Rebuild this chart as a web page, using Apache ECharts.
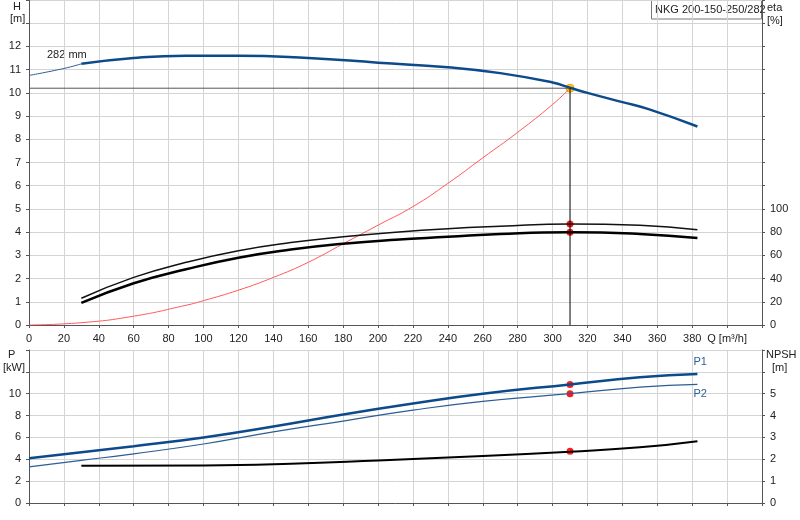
<!DOCTYPE html>
<html><head><meta charset="utf-8">
<script src="https://cdn.jsdelivr.net/npm/echarts@6/dist/echarts.min.js"></script>
<style>html,body{margin:0;background:#fff}#c{width:800px;height:520px}</style>
</head><body><div id="c"></div>
<script>
const hCurve=[[0,10.75],[20,11.05],[30,11.25],[60,11.5],[90,11.6],[120,11.6],[160,11.5],[200,11.3],[240,11.1],[270,10.85],[300,10.45],[310,10.22],[320,10.0],[340,9.6],[355,9.3],[383,8.55]];
const sysCurve=[[0,0],[30,0.1],[60,0.38],[90,0.85],[100,1.05],[120,1.5],[140,2.05],[160,2.7],[180,3.5],[200,4.3],[220,5.1],[240,6.1],[260,7.2],[280,8.3],[300,9.5],[310,10.2]];
const etaUpper=[[30,23],[60,41],[90,54],[120,64],[150,71],[180,76],[210,80],[240,83],[270,85],[310,87],[350,86],[383,82]];
const etaLower=[[30,19],[60,36],[90,48],[120,58],[150,65],[180,70],[210,73.5],[240,76],[270,78.5],[310,80],[350,78.5],[383,75]];
const p1=[[0,4.1],[30,4.65],[60,5.2],[100,6.0],[140,7.0],[180,8.1],[220,9.1],[260,10.0],[310,10.85],[350,11.5],[383,11.8]];
const p2=[[0,3.3],[30,3.9],[60,4.5],[100,5.4],[140,6.5],[180,7.5],[220,8.5],[260,9.3],[310,10.0],[350,10.6],[383,10.85]];
const npsh=[[30,1.7],[100,1.72],[150,1.8],[200,1.95],[260,2.15],[310,2.35],[350,2.55],[383,2.83]];
const duty={q:310,h:10.2,etaU:87,etaL:80,p1:10.85,p2:10.0,npsh:2.37};
const title='NKG 200-150-250/282';
const FONT='11px "Liberation Sans", Arial, sans-serif';

const gridLine={show:true,lineStyle:{color:'#d4d4d4'}};
const axLine={show:true,lineStyle:{color:'#555'}};
const lab={color:'#222',fontSize:11,fontFamily:'Liberation Sans'};
function xa(i,show){return {type:'value',gridIndex:i,min:0,max:420,interval:20,axisLine:axLine,axisTick:{show:true,length:3},splitLine:gridLine,
 axisLabel:show?Object.assign({},lab,{formatter:v=>v===400?'Q [m³/h]':(v>400?'':v)}):{show:false}};}
function ya(i,max,iv,lmax,pos){return {type:'value',gridIndex:i,min:0,max:max,interval:iv,position:pos,axisLine:axLine,axisTick:{show:true,length:3},
 splitLine:pos==='left'?gridLine:{show:false},axisLabel:Object.assign({},lab,{formatter:v=>v<=lmax?v:''})};}
const red={color:'#ff1a1a',opacity:1};
const ch=echarts.init(document.getElementById('c'));
ch.setOption({animation:false,
grid:[{left:29,right:38,top:0,height:325},{left:29,right:38,top:350,height:153}],
xAxis:[xa(0,true),xa(1,false)],
yAxis:[ya(0,14,1,12,'left'),ya(0,280,20,100,'right'),ya(1,14,2,10,'left'),ya(1,7,1,5,'right')],
series:[
{type:'line',xAxisIndex:0,yAxisIndex:0,data:hCurve.slice(0,3),symbol:'none',smooth:true,lineStyle:{color:'#2c5d94',width:1}},
{type:'line',xAxisIndex:0,yAxisIndex:0,data:hCurve.slice(2),symbol:'none',smooth:true,lineStyle:{color:'#0d4a8c',width:2.5}},
{type:'line',xAxisIndex:0,yAxisIndex:0,data:sysCurve,symbol:'none',smooth:true,lineStyle:{color:'#ff5a5a',width:1}},
{type:'line',xAxisIndex:0,yAxisIndex:0,data:[[0,duty.h],[duty.q,duty.h]],symbol:'none',lineStyle:{color:'#555',width:1}},
{type:'line',xAxisIndex:0,yAxisIndex:0,data:[[duty.q,0],[duty.q,duty.h]],symbol:'none',lineStyle:{color:'#000',width:1}},
{type:'line',xAxisIndex:0,yAxisIndex:1,data:etaUpper,symbol:'none',smooth:true,lineStyle:{color:'#111',width:1.5}},
{type:'line',xAxisIndex:0,yAxisIndex:1,data:etaLower,symbol:'none',smooth:true,lineStyle:{color:'#000',width:2.5}},
{type:'scatter',xAxisIndex:0,yAxisIndex:1,data:[[duty.q,duty.etaU],[duty.q,duty.etaL]],symbolSize:7,itemStyle:red},
{type:'scatter',xAxisIndex:0,yAxisIndex:0,data:[[duty.q,duty.h]],symbolSize:8,itemStyle:{color:'#ffd21a',opacity:1,borderColor:'#e8a000',borderWidth:1}},
{type:'line',xAxisIndex:1,yAxisIndex:2,data:p1,symbol:'none',smooth:true,lineStyle:{color:'#0d4a8c',width:2.5},
 endLabel:{show:true,formatter:'P1',color:'#2c5d94',fontSize:11,fontFamily:'Liberation Sans',offset:[-12,-12]}},
{type:'line',xAxisIndex:1,yAxisIndex:2,data:p2,symbol:'none',smooth:true,lineStyle:{color:'#2c5d94',width:1.2},
 endLabel:{show:true,formatter:'P2',color:'#2c5d94',fontSize:11,fontFamily:'Liberation Sans',offset:[-12,10]}},
{type:'line',xAxisIndex:1,yAxisIndex:3,data:npsh,symbol:'none',smooth:true,lineStyle:{color:'#000',width:2}},
{type:'scatter',xAxisIndex:1,yAxisIndex:2,data:[[duty.q,duty.p1],[duty.q,duty.p2]],symbolSize:7,itemStyle:red},
{type:'scatter',xAxisIndex:1,yAxisIndex:3,data:[[duty.q,duty.npsh]],symbolSize:7,itemStyle:red}
],
graphic:[
{type:'rect',shape:{x:651.5,y:-1,width:110,height:20},style:{fill:'#fff',stroke:'#777',lineWidth:1}},
{type:'text',x:655,y:4,style:{text:title,fill:'#222',font:FONT}},
{type:'text',x:13,y:1,style:{text:'H',fill:'#222',font:FONT}},
{type:'text',x:10,y:13,style:{text:'[m]',fill:'#222',font:FONT}},
{type:'text',x:767,y:1,style:{text:'eta\n[%]',fill:'#222',font:FONT,lineHeight:13}},
{type:'text',x:8,y:349,style:{text:'P',fill:'#222',font:FONT}},
{type:'text',x:3,y:362,style:{text:'[kW]',fill:'#222',font:FONT}},
{type:'text',x:766,y:349,style:{text:'NPSH',fill:'#222',font:FONT}},
{type:'text',x:772,y:362,style:{text:'[m]',fill:'#222',font:FONT}},
{type:'text',x:47,y:49,style:{text:'282 mm',fill:'#222',font:FONT}}
]});
</script></body></html>
